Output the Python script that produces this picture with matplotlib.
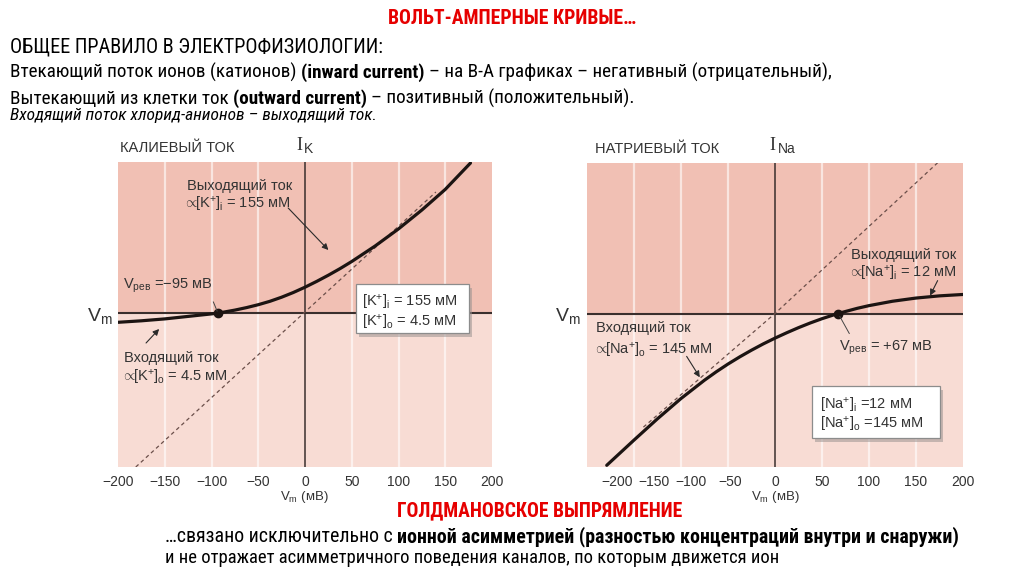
import matplotlib
matplotlib.use("Agg")
import matplotlib.pyplot as plt
from matplotlib import font_manager as fm
from matplotlib.patches import Rectangle
from matplotlib.transforms import ScaledTranslation

W, H = 1024, 574

# ---------------- data ----------------
v_ticks = [-200, -150, -100, -50, 0, 50, 100, 150, 200]
tick_labels = [str(v).replace("-", "\u2212") for v in v_ticks]

# potassium current, arbitrary units
k_v = [-200, -175, -150, -125, -100, -93, -87.5, -75, -62.5, -50, -37.5, -25, -12.5, 0,
       12.5, 25, 37.5, 50, 75, 100, 125, 150, 177]
k_i = [-9.3, -7.8, -5.9, -3.4, -0.9, 0, 0.8, 2.9, 5.4, 8.3, 11.7, 15.8, 20.5, 25.8,
       31.6, 37.8, 44.4, 51.5, 67, 84.1, 103, 123.6, 150]
k_lin_v = [-181, 140]
k_lin_i = [-154, 121]
k_rev = -93

# sodium current, arbitrary units
na_v = [-179, -150, -125, -100, -75, -62.5, -50, -37.5, -25, -12.5, 0, 12.5, 25, 37.5, 50,
        67, 87.5, 100, 125, 150, 175, 200]
na_i = [-152.3, -127, -105.6, -85.3, -66.9, -58.5, -50.7, -43.5, -36.8, -30.5, -24.7, -19.3,
        -14.2, -9.5, -5.2, 0, 5.2, 7.9, 12.3, 15.5, 17.7, 19.1]
na_lin_v = [-140, 0, 175]
na_lin_i = [-114, 0, 153]
na_rev = 67

# ---------------- fonts ----------------
names = {f.name for f in fm.fontManager.ttflist}
NARROW = "Liberation Sans"
for cand in ["Liberation Sans Narrow", "Arial Narrow", "Roboto Condensed", "Noto Sans Condensed"]:
    if cand in names:
        NARROW = cand
        break
SANS = ["Liberation Sans", "DejaVu Sans"]
plt.rcParams["font.family"] = SANS
plt.rcParams["mathtext.fontset"] = "custom"
plt.rcParams["mathtext.rm"] = "Liberation Sans"
plt.rcParams["mathtext.it"] = "Liberation Sans:italic"
plt.rcParams["mathtext.bf"] = "Liberation Sans:bold"
plt.rcParams["mathtext.sf"] = "Liberation Sans"

RED = "#E60000"
TXT = "#333333"
UP = "#F1C0B4"
LOW = "#F8DCD4"
CURVE = "#1c1412"
AXC = "#3a2f2d"

fig = plt.figure(figsize=(W / 100, H / 100), dpi=100)
fig.patch.set_facecolor("white")
renderer = fig.canvas.get_renderer()


def fx(px):
    return px / W


def fy(py):
    return 1 - py / H


def measure(txt, size, **kw):
    t = fig.text(0, 0, txt, fontsize=size, family=[NARROW, "DejaVu Sans"], **kw)
    w = t.get_window_extent(renderer).width
    t.remove()
    return w


def space_w(size, **kw):
    return measure("x x", size, **kw) - measure("xx", size, **kw)


def line_width(runs, size):
    total = 0
    for txt, kw in runs:
        if txt.startswith(" "):
            total += space_w(size, **kw)
        total += measure(txt.strip(), size, **kw)
    return total


def fit_size(runs, size, target):
    return size * target / line_width(runs, size)


def draw_runs(runs, size, x, base, color="black", center=False):
    w = line_width(runs, size)
    if center:
        x = x - w / 2
    for txt, kw in runs:
        if txt.startswith(" "):
            x += space_w(size, **kw)
        s = txt.strip()
        fig.text(fx(x), fy(base), s, fontsize=size, family=[NARROW, "DejaVu Sans"],
                 color=color, ha="left", va="baseline", **kw)
        x += measure(s, size, **kw)


B = dict(weight="bold")
R = dict()

# ---------------- header text ----------------
title = [("ВОЛЬТ-АМПЕРНЫЕ КРИВЫЕ…", B)]
draw_runs(title, fit_size(title, 13, 248), 512, 24, color=RED, center=True)

l2 = [("Втекающий поток ионов (катионов)", R), (" (inward current)", B),
      (" – на В-А графиках – негативный (отрицательный),", R)]
s_body = fit_size(l2, 13, 818)
l1 = [("ОБЩЕЕ ПРАВИЛО В ЭЛЕКТРОФИЗИОЛОГИИ:", R)]
l3 = [("Вытекающий из клетки ток", R), (" (outward current)", B),
      (" – позитивный (положительный).", R)]
draw_runs(l1, min(fit_size(l1, 13, 373), s_body * 1.06), 10, 52)
draw_runs(l2, s_body, 10, 78)
draw_runs(l3, s_body, 10, 104)
l4 = [("Входящий поток хлорид-анионов – выходящий ток.", dict(style="italic"))]
draw_runs(l4, fit_size(l4, 11, 366), 10, 120)

# ---------------- footer text ----------------
g = [("ГОЛДМАНОВСКОЕ ВЫПРЯМЛЕНИЕ", B)]
draw_runs(g, fit_size(g, 13, 285), 540, 516, color=RED, center=True)
f1 = [("…связано исключительно с", R),
      (" ионной асимметрией (разностью концентраций внутри и снаружи)", B)]
draw_runs(f1, fit_size(f1, 13, 790), 165, 542)
f2 = [("и не отражает асимметричного поведения каналов, по которым движется ион", R)]
draw_runs(f2, fit_size(f2, 13, 612), 165, 563)


# ---------------- charts ----------------
def make_axes(left_px, right_px, top_px, bottom_px):
    ax = fig.add_axes([fx(left_px), fy(bottom_px), (right_px - left_px) / W,
                       (bottom_px - top_px) / H])
    ax.set_xlim(-200, 200)
    ax.set_ylim(-154, 151)
    for s in ax.spines.values():
        s.set_visible(False)
    ax.set_yticks([])
    ax.set_xticks(v_ticks, tick_labels)
    ax.tick_params(axis="x", length=0, pad=6, labelsize=10, labelcolor=TXT)
    ax.axhspan(0, 151, color=UP, zorder=0, lw=0)
    ax.axhspan(-154, 0, color=LOW, zorder=0, lw=0)
    for v in v_ticks:
        if v not in (-200, 0, 200):
            ax.axvline(v, color="white", alpha=0.6, lw=1.6, zorder=0.5)
    ax.axvline(0, color=AXC, lw=1.1, zorder=2)
    ax.axhline(0, color=AXC, lw=1.5, zorder=2)
    return ax


def info_box(ax, x0, x1, y0, y1):
    ax.add_patch(Rectangle((x0 + 3.5, y0 - 4), x1 - x0, y1 - y0, facecolor="#9c9391",
                           alpha=0.55, edgecolor="none", zorder=3))
    ax.add_patch(Rectangle((x0, y0), x1 - x0, y1 - y0, facecolor="white",
                           edgecolor="#8c8c8c", lw=0.9, zorder=4))


def arrow(ax, start, tip):
    ax.annotate("", xy=tip, xytext=start, zorder=5,
                arrowprops=dict(arrowstyle="-|>", color="#2b2b2b", lw=0.8,
                                mutation_scale=9, shrinkA=0, shrinkB=0))


def leader(ax, a, b):
    ax.plot([a[0], b[0]], [a[1], b[1]], color="#444444", lw=0.7, zorder=5)


FS = 10.5
PROP = r"$\!\propto\!\!$"

# ---- potassium ----
axk = make_axes(118, 492, 162, 467)
axk.plot(k_lin_v, k_lin_i, color="#6b4f4a", lw=0.9, ls=(0, (3, 2.5)), zorder=3)
axk.plot(k_v, k_i, color=CURVE, lw=2.3, zorder=4, solid_capstyle="round", solid_joinstyle="round")
axk.plot([k_rev], [0], "o", color=CURVE, ms=6, zorder=5)
axk.text(-70, 127, "Выходящий ток", ha="center", va="center", fontsize=FS, color=TXT, zorder=6)
axk.text(-72, 108, PROP + r"[K$^{+}$]$_{\rm i}$ = 155 мМ", ha="center", va="center",
         fontsize=FS, color=TXT, zorder=6)
arrow(axk, (-18, 105), (25, 63))
axk.text(-195, 27, r"V$_{\rm рев}$ =−95 мВ", ha="left", va="center", fontsize=FS, color=TXT, zorder=6)
leader(axk, (-98, 11), (-94, 2))
axk.text(-194, -45, "Входящий ток", ha="left", va="center", fontsize=FS, color=TXT, zorder=6)
axk.text(-195, -65, PROP + r"[K$^{+}$]$_{\rm o}$ = 4.5 мМ", ha="left", va="center",
         fontsize=FS, color=TXT, zorder=6)
arrow(axk, (-170, -30), (-156, -16))
info_box(axk, 54.5, 175.4, -20, 29)
axk.text(61, 10, r"[K$^{+}$]$_{\rm i}$ = 155 мМ", ha="left", va="center", fontsize=FS, color=TXT, zorder=6)
axk.text(61, -10, r"[K$^{+}$]$_{\rm o}$ = 4.5 мМ", ha="left", va="center", fontsize=FS, color=TXT, zorder=6)

# ---- sodium ----
axn = make_axes(587, 963, 163, 467)
for lab, dx in zip(axn.get_xticklabels()[:4], [0.30, 0.20, 0.10, 0.02]):
    lab.set_transform(lab.get_transform() + ScaledTranslation(dx, 0, fig.dpi_scale_trans))
axn.plot(na_lin_v, na_lin_i, color="#6b4f4a", lw=0.9, ls=(0, (3, 2.5)), zorder=3)
axn.plot(na_v, na_i, color=CURVE, lw=2.3, zorder=4, solid_capstyle="round", solid_joinstyle="round")
axn.plot([na_rev], [0], "o", color=CURVE, ms=6, zorder=5)
axn.text(81, 59, "Выходящий ток", ha="left", va="center", fontsize=FS, color=TXT, zorder=6)
axn.text(80, 40, PROP + r"[Na$^{+}$]$_{\rm i}$ = 12 мМ", ha="left", va="center",
         fontsize=FS, color=TXT, zorder=6)
arrow(axn, (173, 33), (165, 18))
axn.text(68, -34, r"V$_{\rm рев}$ = +67 мВ", ha="left", va="center", fontsize=FS, color=TXT, zorder=6)
leader(axn, (69, -3), (79, -20))
axn.text(-190, -15, "Входящий ток", ha="left", va="center", fontsize=FS, color=TXT, zorder=6)
axn.text(-191, -37, PROP + r"[Na$^{+}$]$_{\rm o}$ = 145 мМ", ha="left", va="center",
         fontsize=FS, color=TXT, zorder=6)
arrow(axn, (-94, -43), (-80, -64))
info_box(axn, 39.4, 175.5, -125, -73)
axn.text(48, -92, r"[Na$^{+}$]$_{\rm i}$ =12 мМ", ha="left", va="center", fontsize=FS, color=TXT, zorder=6)
axn.text(48, -111, r"[Na$^{+}$]$_{\rm o}$ =145 мМ", ha="left", va="center", fontsize=FS, color=TXT, zorder=6)

# ---- chart titles, axis labels ----
fig.text(fx(120), fy(148), "КАЛИЕВЫЙ ТОК", fontsize=10.5, color=TXT, ha="left", va="center")
fig.text(fx(595), fy(149), "НАТРИЕВЫЙ ТОК", fontsize=10.5, color=TXT, ha="left", va="center")
fig.text(fx(299), fy(145), "I", fontsize=13, family=["Liberation Serif", "DejaVu Serif"],
         color=TXT, ha="center", va="center")
fig.text(fx(304), fy(149), "K", fontsize=10, color=TXT, ha="left", va="center")
fig.text(fx(772), fy(145), "I", fontsize=13, family=["Liberation Serif", "DejaVu Serif"],
         color=TXT, ha="center", va="center")
fig.text(fx(778), fy(149), "Na", fontsize=10, color=TXT, ha="left", va="center")
fig.text(fx(100), fy(316), r"V$_{\rm m}$", fontsize=14, color=TXT, ha="center", va="center")
fig.text(fx(568), fy(316), r"V$_{\rm m}$", fontsize=14, color=TXT, ha="center", va="center")
fig.text(fx(304), fy(497), r"V$_{\rm m}$ (мВ)", fontsize=9.5, color=TXT, ha="center", va="center")
fig.text(fx(775), fy(497), r"V$_{\rm m}$ (мВ)", fontsize=9.5, color=TXT, ha="center", va="center")

fig.savefig("out.png", dpi=100, facecolor="white")
